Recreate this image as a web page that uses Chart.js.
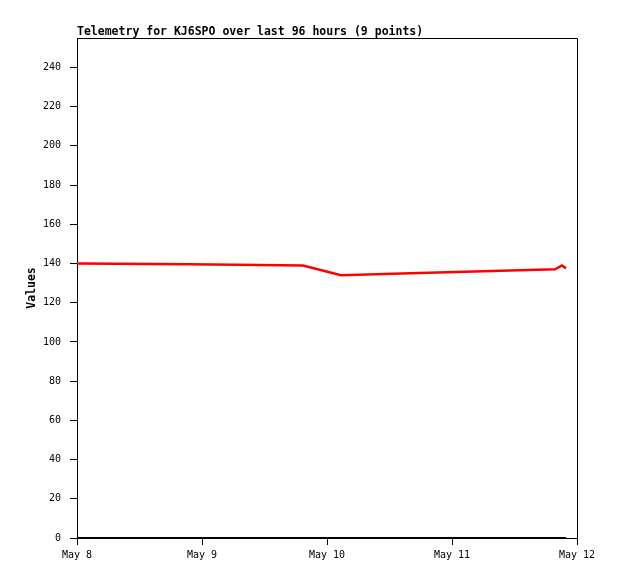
<!DOCTYPE html>
<html>
<head>
<meta charset="utf-8">
<script src="https://cdn.jsdelivr.net/npm/chart.js@4/dist/chart.umd.min.js"></script>
<style>
  html, body { margin: 0; padding: 0; background: #fff; }
  #wrap { width: 618px; height: 579px; }
</style>
</head>
<body>
<div id="wrap"><canvas id="chart" width="618" height="579"></canvas></div>
<script>

// hours since May 8 00:00
const hours = [0, 21.6, 43.4, 50.7, 64, 78, 91.8, 93.1, 93.9];
const values = [140, 139.6, 139, 134, 135, 136, 137, 139, 137.5];
const zeroValues = [0, 0, 0, 0, 0, 0, 0, 0, 0];

const dayTicks = [0, 24, 48, 72, 96];
const dayLabels = ["May 8", "May 9", "May 10", "May 11", "May 12"];
const yTicks = [0, 20, 40, 60, 80, 100, 120, 140, 160, 180, 200, 220, 240];

const titleText = "Telemetry for KJ6SPO over last 96 hours (9 points)";
const yTitleText = "Values";
const monoFont = "'DejaVu Sans Mono', 'Liberation Mono', monospace";

const redPoints = hours.map((h, i) => ({ x: h, y: values[i] }));
const blackPoints = hours.map((h, i) => ({ x: h, y: zeroValues[i] }));

// title, y title + frame around plot area
const framePlugin = {
    id: "frame",
    afterDraw(chart) {
        const ctx = chart.ctx;
        const a = chart.chartArea;
        ctx.save();
        ctx.strokeStyle = "#000";
        ctx.lineWidth = 1;
        ctx.beginPath();
        ctx.moveTo(a.left + 0.5, a.top + 0.5);
        ctx.lineTo(a.right + 0.5, a.top + 0.5);
        ctx.lineTo(a.right + 0.5, a.bottom);
        ctx.stroke();

        ctx.fillStyle = "#000";
        ctx.font = "bold 11.5px " + monoFont;
        ctx.textAlign = "left";
        ctx.textBaseline = "alphabetic";
        ctx.fillText(titleText, a.left, 35);

        ctx.translate(32, (a.top + a.bottom) / 2);
        ctx.rotate(-Math.PI / 2);
        ctx.textAlign = "center";
        ctx.textBaseline = "middle";
        ctx.font = "bold 11.5px " + monoFont;
        ctx.fillText(yTitleText, 0, 0);
        ctx.restore();
    }
};

new Chart(document.getElementById("chart"), {
    type: "line",
    data: {
        datasets: [
            {
                data: redPoints,
                borderColor: "#ff0000",
                borderWidth: 2.5,
                pointRadius: 0,
                tension: 0,
                fill: false
            },
            {
                data: blackPoints,
                borderColor: "#000000",
                borderWidth: 2,
                pointRadius: 0,
                tension: 0,
                fill: false,
                clip: false
            }
        ]
    },
    options: {
        responsive: false,
        animation: false,
        layout: {
            padding: { left: 0, right: 41, top: 38, bottom: 0 }
        },
        plugins: {
            legend: { display: false },
            tooltip: { enabled: false },
            title: { display: false }
        },
        scales: {
            x: {
                type: "linear",
                min: 0,
                max: 96,
                afterBuildTicks: (axis) => {
                    axis.ticks = dayTicks.map(v => ({ value: v }));
                },
                afterFit: (axis) => { axis.height = 41; },
                ticks: {
                    autoSkip: false,
                    maxRotation: 0,
                    color: "#000",
                    padding: 4,
                    font: { family: monoFont, size: 10 },
                    callback: (v) => dayLabels[dayTicks.indexOf(v)]
                },
                grid: {
                    drawOnChartArea: false,
                    drawTicks: true,
                    tickLength: 7,
                    color: "#000"
                },
                border: { display: true, color: "#000", width: 1 }
            },
            y: {
                min: 0,
                max: 255,
                afterBuildTicks: (axis) => {
                    axis.ticks = yTicks.map(v => ({ value: v }));
                },
                afterFit: (axis) => { axis.width = 77; },
                ticks: {
                    color: "#000",
                    padding: 9,
                    font: { family: monoFont, size: 10 }
                },
                grid: {
                    drawOnChartArea: false,
                    drawTicks: true,
                    tickLength: 7,
                    color: "#000"
                },
                border: { display: true, color: "#000", width: 1 }
            }
        }
    },
    plugins: [framePlugin]
});
</script>
</body>
</html>
